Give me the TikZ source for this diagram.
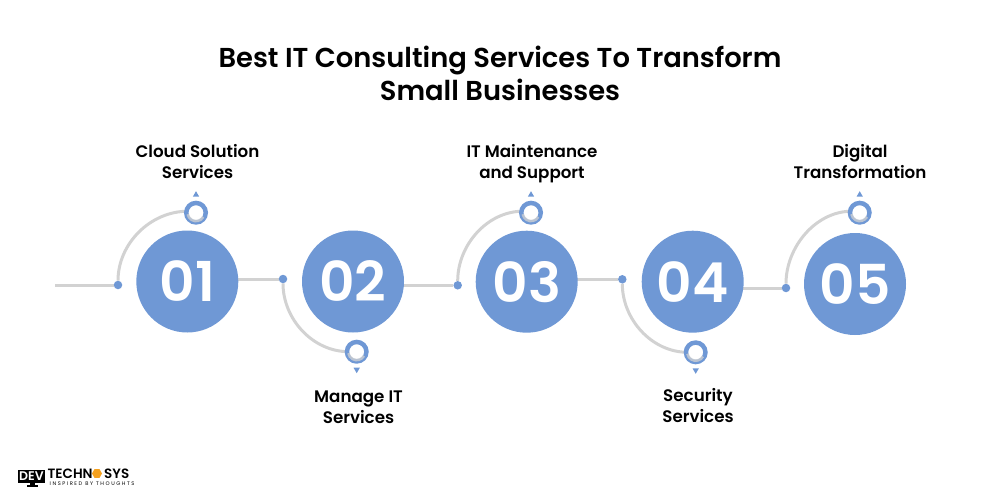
\documentclass[tikz,border=0pt]{standalone}
\usepackage{fontspec}
\setmainfont{Poppins}[BoldFont={Poppins SemiBold}]
\usetikzlibrary{calc,backgrounds,shapes.geometric}
\definecolor{blu}{HTML}{6F98D5}
\definecolor{gry}{HTML}{D2D2D2}
\definecolor{orng}{HTML}{F5A11F}
\begin{document}
\begin{tikzpicture}[x=1pt,y=-1pt,
  num/.style={circle,fill=blu,minimum size=102pt,inner sep=0pt,text=white,font=\fontsize{55}{55}\selectfont\bfseries},
  dotn/.style={circle,fill=blu,minimum size=8.5pt,inner sep=0pt},
  ringn/.style={circle,draw=blu,line width=4.5pt,fill=white,minimum size=19.5pt,inner sep=0pt},
  wire/.style={draw=gry,line width=3pt},
  lab/.style={align=center,font=\fontsize{16.7}{21}\selectfont\bfseries,text=black,inner sep=0pt},
  tip/.style={fill=blu},
  shade/.style={draw=gry,line width=2.6pt,opacity=.75}]
\useasboundingbox (0,0) rectangle (1000,500);
\node[font=\fontsize{27.35}{33}\selectfont\bfseries,align=center,inner sep=0pt] (title) at (500,73.5) {Best IT Consulting Services To Transform\\Small Businesses};
\coordinate (start) at (55,285);
\node[num] (n1) at (187.3,281.5) {01};
\node[num] (n2) at (353,281.5) {02};
\node[num] (n3) at (526.7,281.7) {03};
\node[num] (n4) at (692.7,281.7) {04};
\node[num] (n5) at (855,284) {05};
\node[dotn] (d1) at (118,285) {};
\node[dotn] (d2) at (283,279) {};
\node[dotn] (d3) at (457.7,285.3) {};
\node[dotn] (d4) at (622.3,279.3) {};
\node[dotn] (d5) at (786,288) {};
\node[ringn] (r1) at (196,212.7) {};
\node[ringn] (r2) at (356.7,351.7) {};
\node[ringn] (r3) at (531,212.7) {};
\node[ringn] (r4) at (695.7,352.3) {};
\node[ringn] (r5) at (859.7,212.7) {};
\begin{scope}[on background layer]
\draw[wire] (start) -- (d1);
\draw[wire] (n1.center |- d2) -- (d2);
\draw[wire] (n2.center |- d3) -- (d3);
\draw[wire] (n3.center |- d4) -- (d4);
\draw[wire] (n4.center |- d5) -- (d5);
\draw[wire] (d1) .. controls ($(d1)+(0,-41)$) and ($(r1)+(-46,-1.5)$) .. ($(r1)+(-8,-1.5)$);
\draw[wire] (d2) .. controls ($(d2)+(0,40)$) and ($(r2)+(-44,0)$) .. ($(r2)+(-8,0)$);
\draw[wire] (d3) .. controls ($(d3)+(0,-40)$) and ($(r3)+(-44,-1.5)$) .. ($(r3)+(-8,-1.5)$);
\draw[wire] (d4) .. controls ($(d4)+(0,40)$) and ($(r4)+(-44,0)$) .. ($(r4)+(-8,0)$);
\draw[wire] (d5) .. controls ($(d5)+(0,-41)$) and ($(r5)+(-44,-1.5)$) .. ($(r5)+(-8,-1.5)$);
\end{scope}
\foreach \a/\s in {1/1,2/-1,3/1,4/-1,5/1}{
  \fill[tip] ($(r\a)+(-3.2,{-\s*16})$) -- ($(r\a)+(3.2,{-\s*16})$) -- ($(r\a)+(0,{-\s*21.5})$) -- cycle;
  \draw[shade] ($(r\a)+(30:8.4)$) arc[start angle=30,end angle=170,radius=8.4];}
\node[lab] (t1) at (197.5,162) {Cloud Solution\\Services};
\node[lab] (t2) at (358.5,407) {Manage IT\\Services};
\node[lab] (t3) at (532,164) {IT Maintenance\\and Support};
\node[lab] (t4) at (698,406) {Security\\Services};
\node[lab] (t5) at (860,162) {Digital\\Transformation};
% logo
\node[fill=black,text=white,minimum width=27pt,minimum height=13pt,inner sep=0pt,font=\fontsize{12.5}{12}\selectfont\bfseries] (logo) at (31.5,476) {DEV};
\fill[black] (29.5,482) rectangle (35,485);
\fill[black] (27,485) rectangle (38,486.5);
\node[inner sep=0pt,anchor=base west,font=\fontsize{13.5}{14}\selectfont\bfseries] (lt) at (47.5,478.5) {TECHN};
\node[regular polygon,regular polygon sides=6,fill=orng,minimum size=10pt,inner sep=0pt] (hex) at (97,473.5) {};
\node[inner sep=0pt,anchor=base west,font=\fontsize{13.5}{14}\selectfont\bfseries] (ls) at (104,478.5) {SYS};
\node[inner sep=0pt,anchor=base west,font=\fontsize{5.2}{5}\selectfont\addfontfeature{LetterSpace=30}] (lb) at (49.5,485) {INSPIRED BY THOUGHTS};
\end{tikzpicture}
\end{document}
